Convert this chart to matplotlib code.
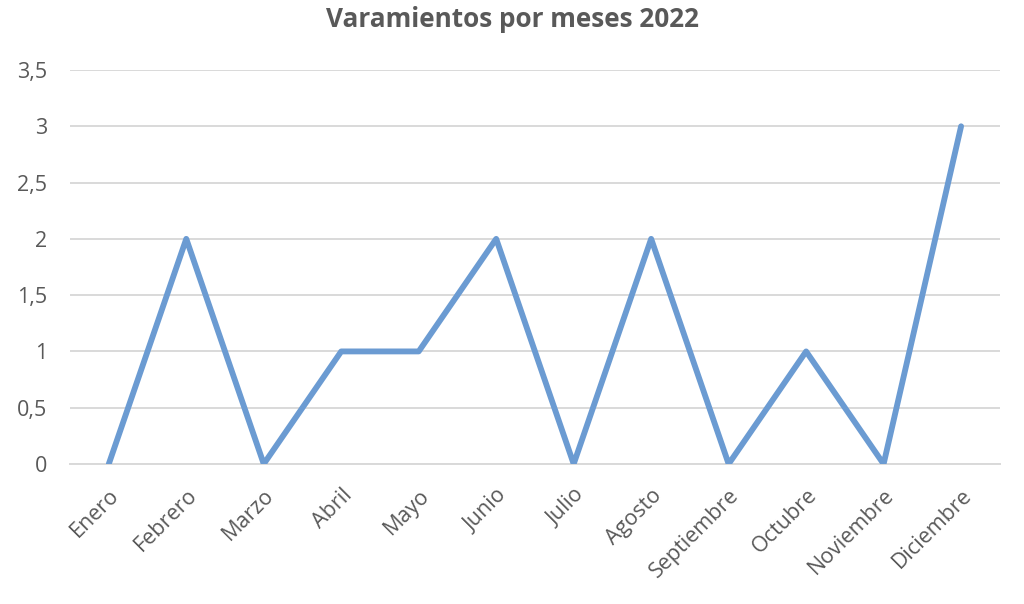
import matplotlib
matplotlib.use("Agg")
import matplotlib.pyplot as plt

# data
meses = ["Enero", "Febrero", "Marzo", "Abril", "Mayo", "Junio", "Julio",
         "Agosto", "Septiembre", "Octubre", "Noviembre", "Diciembre"]
varamientos = [0, 2, 0, 1, 1, 2, 0, 2, 0, 1, 0, 3]
yticks = [0, 0.5, 1, 1.5, 2, 2.5, 3, 3.5]
ytick_labels = ["0", "0,5", "1", "1,5", "2", "2,5", "3", "3,5"]

plt.rcParams['font.family'] = ['Open Sans', 'DejaVu Sans']
grey = '#595959'

fig = plt.figure(figsize=(10.24, 6.04), dpi=100)
ax = fig.add_axes([0.0684, 0.2318, 0.908, 0.6523])

x = range(len(meses))
ax.plot(x, varamientos, color='#6B9BD2', linewidth=4.2, solid_capstyle='round',
        solid_joinstyle='round', zorder=3)

ax.set_xlim(-0.5, len(meses) - 0.5)
ax.set_ylim(0, 3.5)
ax.set_yticks(yticks)
ax.set_yticklabels(ytick_labels)
ax.set_xticks(list(x))
ax.set_xticklabels(meses, rotation=45, ha='right', rotation_mode='anchor')

ax.grid(axis='y', color='#D9D9D9', linewidth=1.4, zorder=0)
for s in ['top', 'right', 'left']:
    ax.spines[s].set_visible(False)
ax.spines['bottom'].set_color('#D9D9D9')
ax.spines['bottom'].set_linewidth(1.4)
ax.tick_params(axis='both', length=0, labelsize=15.5, colors=grey)
ax.tick_params(axis='x', pad=15)
ax.tick_params(axis='y', pad=16.5)

fig.text(0.5, 0.968, "Varamientos por meses 2022", ha='center', va='center',
         fontsize=18.8, fontweight='bold', color=grey)

fig.savefig("out.png", dpi=100)
